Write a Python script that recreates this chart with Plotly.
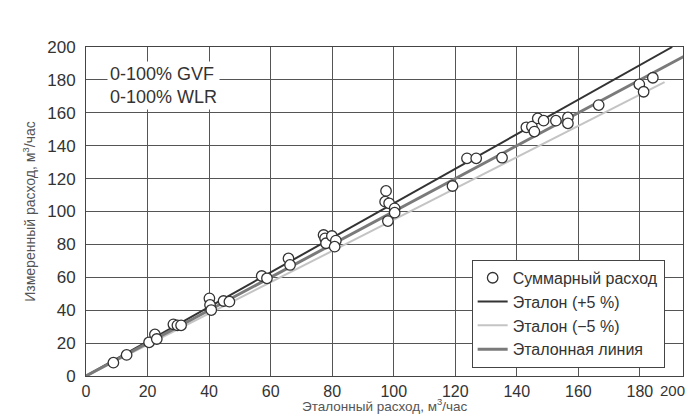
import plotly.graph_objects as go

# Measured points (reference flow, measured flow), m3/h
ref_flow = [8.9, 13.2, 20.5, 22.4, 23.0, 28.4, 29.7, 30.9, 40.1, 40.3, 40.7, 44.7, 46.6,
            57.1, 58.8, 65.8, 66.3, 77.2, 77.7, 78.0, 79.9, 81.2, 80.8,
            97.5, 97.2, 98.5, 100.3, 100.3, 98.1, 119.1, 123.8, 126.8, 135.2,
            143.1, 144.9, 145.7, 146.8, 148.7, 152.7, 156.6, 156.6, 166.6,
            179.8, 181.2, 184.2]
meas_flow = [8.1, 12.8, 20.5, 25.3, 22.5, 31.4, 30.8, 30.8, 47.2, 43.2, 40.1, 45.6, 45.2,
             60.8, 59.4, 71.5, 67.5, 85.7, 83.7, 80.7, 85.1, 82.3, 78.6,
             112.5, 106.0, 105.0, 101.9, 99.3, 94.2, 115.5, 132.3, 132.3, 132.7,
             151.2, 151.6, 148.6, 156.6, 155.2, 155.2, 157.2, 153.6, 164.7,
             177.3, 172.8, 181.3]

# Reference lines
plus5_x = [0, 190.5]
plus5_y = [0, 200]
minus5_x = [0, 188]
minus5_y = [0, 178.6]
ideal_x = [0, 200]
ideal_y = [0, 200]

y_ticks = [0, 20, 40, 60, 80, 100, 120, 140, 160, 180, 200]
x_ticks = [0, 20, 40, 60, 80, 100, 120, 140, 160, 180]

FONT = "Liberation Sans, Arial, sans-serif"

fig = go.Figure()
fig.add_trace(go.Scatter(x=plus5_x, y=plus5_y, mode="lines", name="Эталон (+5 %)",
                         legendrank=2, line=dict(color="#333333", width=2)))
fig.add_trace(go.Scatter(x=minus5_x, y=minus5_y, mode="lines", name="Эталон (−5 %)",
                         legendrank=3, line=dict(color="#c4c4c4", width=2)))
fig.add_trace(go.Scatter(x=ideal_x, y=ideal_y, mode="lines", name="Эталонная линия",
                         legendrank=4, line=dict(color="#7a7a7a", width=3)))
fig.add_trace(go.Scatter(x=ref_flow, y=meas_flow, mode="markers", name="Суммарный расход",
                         legendrank=1,
                         marker=dict(symbol="circle", size=10.5, color="white",
                                     line=dict(color="#333333", width=1.3))))

fig.update_layout(
    width=688, height=416,
    margin=dict(l=86, r=5, t=47, b=40),
    paper_bgcolor="white", plot_bgcolor="white",
    font=dict(family=FONT, color="#333333"),
    showlegend=True,
    legend=dict(x=0.646, y=0.353, xanchor="left", yanchor="top",
                bgcolor="white", bordercolor="#444444", borderwidth=1,
                font=dict(size=16, color="#333333"), traceorder="normal",
                itemwidth=30),
    xaxis=dict(range=[0, 194], tickvals=x_ticks, showgrid=True, gridcolor="#555555",
               gridwidth=1, zeroline=False, showline=True, linecolor="#444444",
               linewidth=1, mirror=True, ticks="", tickfont=dict(size=16, color="#333333"),
               automargin=False, ticklabelstandoff=1),
    yaxis=dict(range=[0, 200], tickvals=y_ticks, showgrid=True, gridcolor="#555555",
               gridwidth=1, zeroline=False, showline=True, linecolor="#444444",
               linewidth=1, mirror=True, ticks="", tickfont=dict(size=17, color="#333333"),
               ticklabelstandoff=6, automargin=False,
               title=dict(text="Измеренный расход, м<sup>3</sup>/час",
                          font=dict(size=14, color="#555555"), standoff=8)),
)

fig.add_annotation(x=0.5, y=-0.1216, xref="paper", yref="paper", xanchor="center",
                   yanchor="bottom", text="Эталонный расход, м<sup>3</sup>/час",
                   showarrow=False, font=dict(size=13.5, color="#555555", family=FONT))
fig.add_annotation(x=1, y=0, xref="paper", yref="paper", xanchor="right", yanchor="top",
                   yshift=-4, xshift=4,
                   text="200", showarrow=False,
                   font=dict(size=15, color="#333333", family=FONT))
fig.add_annotation(x=0.035, y=0.958, xref="paper", yref="paper", xanchor="left", yanchor="top",
                   text="0-100% GVF<br>0-100% WLR", showarrow=False, align="left",
                   bgcolor="white", borderpad=2,
                   font=dict(size=18, color="#333333", family=FONT))

fig.write_html("out.html")
